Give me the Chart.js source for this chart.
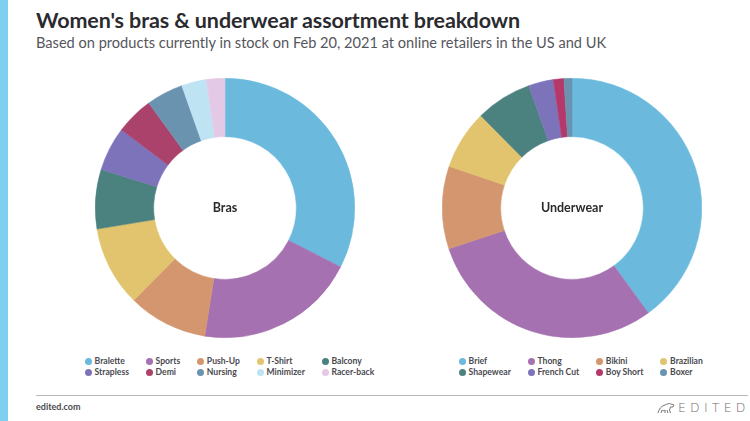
<!DOCTYPE html>
<html>
<head>
<meta charset="utf-8">
<script src="https://cdn.jsdelivr.net/npm/chart.js@4.4.1/dist/chart.umd.min.js"></script>
<style>
  html, body { margin:0; padding:0; background:#fff; }
  body { width:750px; height:421px; position:relative; overflow:hidden; font-family:"Lato","Noto Sans",sans-serif; }
  #bar { position:absolute; left:0; top:0; width:8px; height:421px; background:#7fcff0; }
  #title { position:absolute; left:36px; top:7px; font-size:21.5px; font-weight:700; color:#2b2b2f; white-space:nowrap; letter-spacing:-0.1px; }
  #subtitle { position:absolute; left:36px; top:34px; font-size:14.6px; color:#55565c; white-space:nowrap; }
  .chartBox { position:absolute; width:260px; height:260px; }
  .center { position:absolute; width:160px; text-align:center; font-size:12.5px; font-weight:700; color:#2b2b2f; }
  .legend { position:absolute; display:grid; column-gap:17px; row-gap:1px; font-size:8.6px; font-weight:700; color:#4a4a50; }
  .legend .it { display:flex; align-items:center; height:10px; white-space:nowrap; }
  .legend .dot { width:7px; height:7px; border-radius:50%; margin-right:2.6px; flex:none; }
  #rule { position:absolute; left:36px; top:395px; width:712px; height:1px; background:#b8b8bd; }
  #site { position:absolute; left:36px; top:401px; font-size:9px; font-weight:700; color:#4a4a50; }
  #logo { position:absolute; left:657px; top:400px; display:flex; align-items:center; color:#6a6a6e; }
  #logo span { font-family:"DejaVu Sans","Noto Sans",sans-serif; font-weight:300; font-size:12.5px; letter-spacing:4.2px; margin-left:3px; }
</style>
</head>
<body>
<div id="bar"></div>
<div id="title">Women's bras &amp; underwear assortment breakdown</div>
<div id="subtitle">Based on products currently in stock on Feb 20, 2021 at online retailers in the US and UK</div>

<div class="chartBox" style="left:95px;top:78px;"><canvas id="c1"></canvas></div>
<div class="chartBox" style="left:442px;top:78px;"><canvas id="c2"></canvas></div>
<div class="center" style="left:145px;top:200px;" id="t1"></div>
<div class="center" style="left:492px;top:200px;" id="t2"></div>

<div class="legend" id="lg1" style="left:85px;top:356px;grid-template-columns:repeat(5,auto);"></div>
<div class="legend" id="lg2" style="left:459px;top:356px;grid-template-columns:repeat(4,auto);"></div>

<div id="rule"></div>
<div id="site">edited.com</div>
<div id="logo">
  <svg width="18" height="12" viewBox="0 0 18 12"><path d="M1 11 C2 7 4 4 8 3 C10 2 12 1 14 2 L17 3 L16 5 L13.5 5 L12.5 8 L13.5 11 M4 11 L5 8 C6 9 7 9 8 8 L8 11 M10 8 L11 11" fill="none" stroke="#6a6a6e" stroke-width="0.9"/></svg>
  <span>EDITED</span>
</div>

<script>
// ---- data ----
const brasTitle = "Bras";
const brasLabels = ["Bralette","Sports","Push-Up","T-Shirt","Balcony","Strapless","Demi","Nursing","Minimizer","Racer-back"];
const brasValues = [32.5, 20.0, 9.9, 10.0, 7.4, 5.5, 4.7, 4.6, 3.1, 2.3];
const brasColors = ["#6bbadd","#a571b0","#d4966f","#e1c46d","#4b8280","#7d73bb","#aa426c","#6a93b0","#bee3f3","#e4c9e6"];

const underTitle = "Underwear";
const underLabels = ["Brief","Thong","Bikini","Brazilian","Shapewear","French Cut","Boy Short","Boxer"];
const underValues = [40.0, 29.9, 10.3, 7.4, 7.0, 3.1, 1.3, 1.0];
const underColors = ["#6bbadd","#a571b0","#d4966f","#e1c46d","#4b8280","#7d73bb","#b5386a","#6a93b0"];

function makeDonut(id, labels, values, colors) {
  return new Chart(document.getElementById(id), {
    type: 'doughnut',
    data: { labels: labels, datasets: [{ data: values, backgroundColor: colors, borderColor: colors, borderWidth: 0.5 }] },
    options: {
      responsive: true, maintainAspectRatio: false, animation: false,
      cutout: '55%',
      layout: { padding: 0 },
      plugins: { legend: { display: false }, tooltip: { enabled: false } }
    }
  });
}
function makeLegend(elId, labels, colors) {
  const el = document.getElementById(elId);
  labels.forEach((l, i) => {
    const it = document.createElement('div'); it.className = 'it';
    const d = document.createElement('div'); d.className = 'dot'; d.style.background = colors[i];
    const s = document.createElement('span'); s.textContent = l;
    it.appendChild(d); it.appendChild(s); el.appendChild(it);
  });
}
makeDonut('c1', brasLabels, brasValues, brasColors);
makeDonut('c2', underLabels, underValues, underColors);
document.getElementById('t1').textContent = brasTitle;
document.getElementById('t2').textContent = underTitle;
makeLegend('lg1', brasLabels, brasColors);
makeLegend('lg2', underLabels, underColors);
</script>
</body>
</html>
